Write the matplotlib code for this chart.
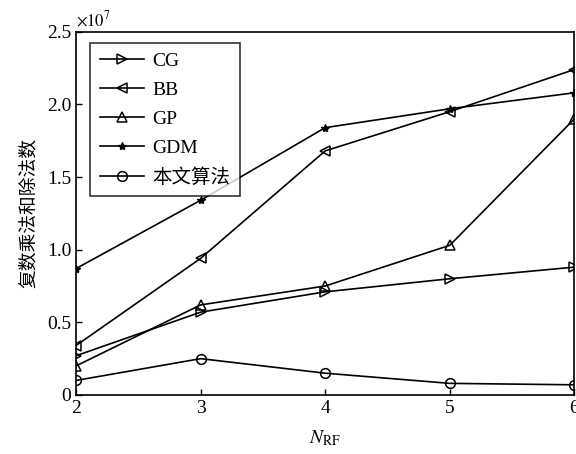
import numpy as np
import matplotlib.pyplot as plt
from matplotlib.ticker import FuncFormatter

plt.rcParams['font.family'] = ['Liberation Serif', 'Noto Sans CJK SC']
plt.rcParams['mathtext.fontset'] = 'stix'

# number of RF chains
n_rf = [2, 3, 4, 5, 6]

# complex multiplications and divisions, in units of 1e7
cg = [0.27, 0.57, 0.71, 0.80, 0.88]
bb = [0.34, 0.94, 1.68, 1.95, 2.24]
gp = [0.20, 0.62, 0.75, 1.03, 1.90]
gdm = [0.87, 1.34, 1.84, 1.97, 2.08]
ours = [0.10, 0.25, 0.15, 0.08, 0.07]

fig = plt.figure(figsize=(5.76, 4.54), dpi=100)
ax = fig.add_axes([0.132, 0.130, 0.865, 0.800])

style = dict(color='k', linewidth=1.2, markerfacecolor='none',
             markeredgecolor='k', markeredgewidth=1.1, markersize=7)
ax.plot(n_rf, cg, marker='>', label='CG', **style)
ax.plot(n_rf, bb, marker='<', label='BB', **style)
ax.plot(n_rf, gp, marker='^', label='GP', **style)
ax.plot(n_rf, gdm, marker='*', label='GDM', color='k', linewidth=1.2,
        markersize=6, markerfacecolor='k', markeredgecolor='k')
ax.plot(n_rf, ours, marker='o', label='本文算法', **style)

ax.set_xlim(2, 6)
ax.set_ylim(0, 2.5)
ax.set_xticks(n_rf)
ax.set_yticks([0, 0.5, 1.0, 1.5, 2.0, 2.5])
ax.yaxis.set_major_formatter(FuncFormatter(lambda v, p: '0' if v == 0 else '%.1f' % v))
ax.tick_params(direction='in', length=4, width=1, labelsize=14, colors='k')
for s in ax.spines.values():
    s.set_linewidth(1.2)

ax.text(0.0, 1.005, r'$\times10^7$', transform=ax.transAxes, fontsize=12,
        ha='left', va='bottom')

ax.set_xlabel(r'$N_{\mathrm{RF}}$', fontsize=14, labelpad=8)
ax.set_ylabel('复数乘法和除法数', fontsize=13.5, family=['Noto Sans CJK SC'], labelpad=6)

leg = ax.legend(loc='upper left', bbox_to_anchor=(0.028, 0.970), borderaxespad=0,
                fontsize=14, frameon=True, fancybox=False, edgecolor='k',
                handlelength=2.3, borderpad=0.5, labelspacing=0.58, handletextpad=0.4)
leg.get_frame().set_linewidth(1.2)

fig.savefig('out.png', dpi=100)
